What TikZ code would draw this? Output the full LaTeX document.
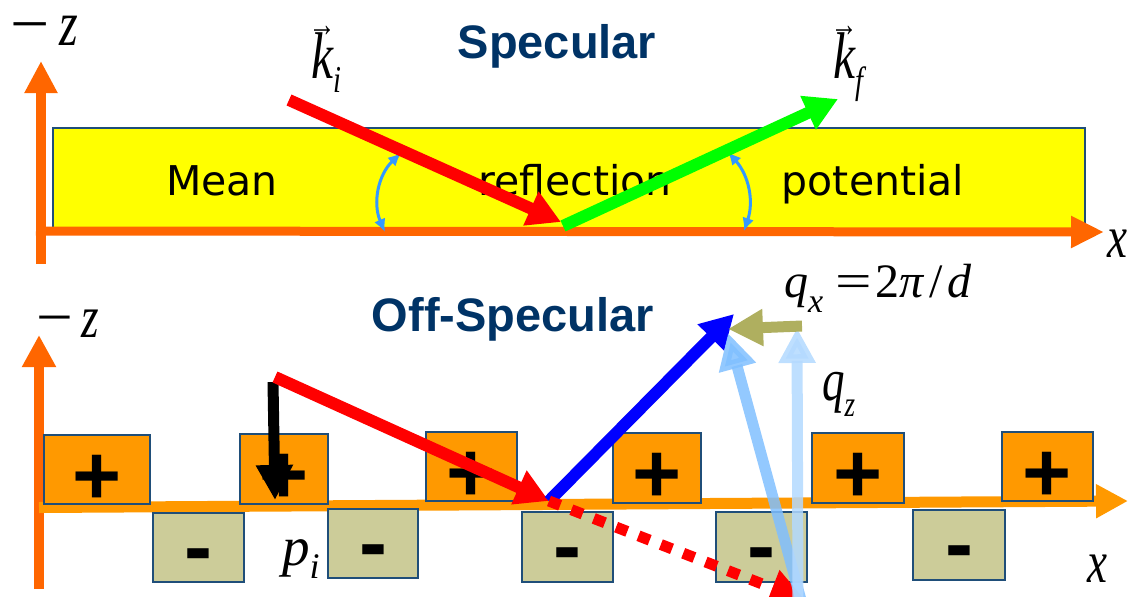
\documentclass[tikz,border=0pt]{standalone}
\usepackage{fontspec}
\usetikzlibrary{arrows.meta}
\setmainfont{Liberation Serif}
\newfontfamily\tms[FakeStretch=0.75]{Liberation Serif}
\newfontfamily\vfont{DejaVu Sans}
\newfontfamily\afont{Liberation Sans}
\definecolor{axisor}{HTML}{FF6600}
\definecolor{axisorl}{HTML}{FF9900}
\definecolor{navyt}{HTML}{003366}
\definecolor{boxline}{HTML}{1F4E79}
\definecolor{khaki}{HTML}{CCCC99}
\definecolor{arcblue}{HTML}{3399FF}
\definecolor{lbone}{HTML}{80BFFF}
\definecolor{lbtwo}{HTML}{B3D9FF}
\definecolor{olivea}{HTML}{AFAF5F}
\definecolor{kgreen}{HTML}{00FF00}
\definecolor{kred}{HTML}{FF0000}
\definecolor{kblue}{HTML}{0000FF}
\definecolor{potyel}{HTML}{FFFF00}
\newcommand{\lsub}[3]{\raisebox{-#2}{\fontsize{#1}{#1}\selectfont #3}}
\newcommand{\veck}{\ooalign{k\cr\hidewidth\raisebox{42pt}{\fontsize{36}{36}\selectfont\upshape →}\hidewidth\cr}}
\newcommand{\bigminus}{\scalebox{1.45}[1]{\upshape −}}
\tikzset{
  vtext/.style={font=\vfont\fontsize{41}{41}\selectfont, anchor=base, inner sep=0pt},
  title/.style={font=\afont\bfseries\fontsize{47}{47}\selectfont, text=navyt, anchor=base, inner sep=0pt},
  lbl/.style={font=\tms\itshape\fontsize{#1}{#1}\selectfont, anchor=base west, inner sep=0pt},
  lblr/.style={font=\rmfamily\itshape\fontsize{#1}{#1}\selectfont, anchor=base west, inner sep=0pt},
  pbox/.style={draw=boxline, line width=2pt, fill=axisorl, inner sep=0pt,
    font=\afont\bfseries\fontsize{84}{84}\selectfont, text height=69pt, text depth=0pt},
  mbox/.style={pbox, fill=khaki, text height=55pt},
  fat/.style={line width=12pt, -{Triangle[length=33pt,width=35pt]}},
  arcarrow/.style={draw=arcblue, line width=3pt, {Latex[length=13pt,width=12pt]}-{Latex[length=13pt,width=12pt]}},
}
\begin{document}
\begin{tikzpicture}[x=1pt,y=-1pt]
\useasboundingbox (0,0) rectangle (1130,597);
% ---------- top: specular ----------
\node[draw=boxline, line width=1.5pt, fill=potyel, minimum width=1032pt, minimum height=101pt,
      inner sep=0pt, anchor=north west] (pot) at (52,127) {};
\node[vtext] (mean) at (222,195) {Mean};
\node[vtext] (refl) at (575,195) {reflection};
\node[vtext] (potl) at (873,195) {potential};
\node[title] (spec) at (557,58) {Specular};

\coordinate (zTb) at (41,264);
\coordinate (zT) at (41,61);
\coordinate (xTs) at (36,231);
\coordinate (xT) at (1104,232);
\draw[axisor, line width=10pt, -{Triangle[length=32pt,width=31pt]}] (zTb) -- (zT);
\draw[axisor, line width=9pt, -{Triangle[length=33pt,width=30pt]}] (xTs) -- (xT);

\coordinate (a1t) at (401,153);
\coordinate (a1b) at (385,232);
\coordinate (a2t) at (728,152);
\coordinate (a2b) at (744,231);
\draw[arcarrow] (a1t) to[bend right=35] (a1b);
\draw[arcarrow] (a2t) to[bend left=30] (a2b);

\coordinate (kiS) at (289,100);
\coordinate (R) at (561,222);
\coordinate (R2) at (563,226);
\coordinate (kfT) at (838,99);
\draw[kred, fat] (kiS) -- (R);
\draw[kgreen, fat] (R2) -- (kfT);

\node[lbl=66] (ki) at (311,78) {\veck\lsub{38}{14pt}{i}};
\node[lbl=66] (kf) at (833,78) {\veck\lsub{38}{15pt}{f}};
\node[lbl=64, text height=36pt] (mzT) at (10,45) {\bigminus\hspace{10pt}z};
\node[lbl=60] (xTl) at (1107,257) {x};

% ---------- bottom: off-specular ----------
\node[title] (offspec) at (513,331) {Off-Specular};
\coordinate (zBb) at (39,589);
\coordinate (zB) at (39,335);
\coordinate (xBs) at (39,507.5);
\coordinate (xB) at (1128,501);
\draw[axisor, line width=10pt, -{Triangle[length=32pt,width=32pt]}] (zBb) -- (zB);
\draw[axisorl, line width=11pt, -{Triangle[length=32pt,width=32pt]}] (xBs) -- (xB);

\node[pbox, minimum width=106pt, minimum height=63pt] (p1) at (97,469.5) {+};
\node[pbox, minimum width=88pt, minimum height=70pt] (p2) at (284,469) {+};
\node[pbox, minimum width=91pt, minimum height=69pt] (p3) at (471.5,466.5) {+};
\node[pbox, minimum width=88pt, minimum height=70pt] (p4) at (657,468) {+};
\node[pbox, minimum width=92pt, minimum height=70pt] (p5) at (858,468) {+};
\node[pbox, minimum width=91pt, minimum height=69pt] (p6) at (1047.5,466.5) {+};
\node[mbox, minimum width=91pt, minimum height=69pt] (m1) at (198.5,547.5) {-};
\node[mbox, minimum width=90pt, minimum height=69pt] (m2) at (373,543.5) {-};
\node[mbox, minimum width=91pt, minimum height=70pt] (m3) at (567.5,547) {-};
\node[mbox, minimum width=91pt, minimum height=70pt] (m4) at (761.5,547) {-};
\node[mbox, minimum width=92pt, minimum height=70pt] (m5) at (959,545) {-};

\coordinate (piS) at (273,382);
\coordinate (piT) at (275,500);
\coordinate (kiS2) at (275,377);
\coordinate (Q) at (549,501);
\coordinate (kfT2) at (734,314);
\coordinate (spT) at (806,601);
\coordinate (lb1S) at (801,600);
\coordinate (lb1T) at (728,333);
\coordinate (lb2S) at (798,600);
\coordinate (lb2T) at (797,328);
\coordinate (qxS) at (802,326);
\coordinate (qxT) at (728,329);

\draw[black, line width=11pt, -{Triangle[length=35pt,width=35pt]}] (piS) -- (piT);
\draw[kred, fat] (kiS2) -- (Q);
\draw[kblue, fat] (Q) -- (kfT2);
\draw[kred, line width=11pt, dash pattern=on 12pt off 12pt, -{Triangle[length=36pt,width=36pt]}] (Q) -- (spT);
\draw[lbone, opacity=0.85, line width=11pt, -{Triangle[length=36pt,width=36pt]}] (lb1S) -- (lb1T);
\draw[lbtwo, opacity=0.85, line width=11pt, -{Triangle[length=35pt,width=35pt]}] (lb2S) -- (lb2T);
\draw[olivea, line width=11pt, -{Triangle[length=35pt,width=35pt]}] (qxS) -- (qxT);

\node[lbl=60] (mzB) at (36,337) {\bigminus\hspace{9pt}z};
\node[lbl=60] (xBl) at (1087,582) {x};
\node[lbl=60] (qz) at (822,400) {q\lsub{36}{16pt}{z}};
\node[lblr=55] (pil) at (282,565) {p\lsub{36}{13pt}{i}};
\node[lblr=48] (qx) at (784,297) {q\lsub{34}{15pt}{x}\hspace{12pt}\upshape\scalebox{1.35}[1]{=}\hspace{4pt}2\itshape π\upshape\hspace{6pt}/\hspace{4pt}\itshape d};
\end{tikzpicture}
\end{document}
